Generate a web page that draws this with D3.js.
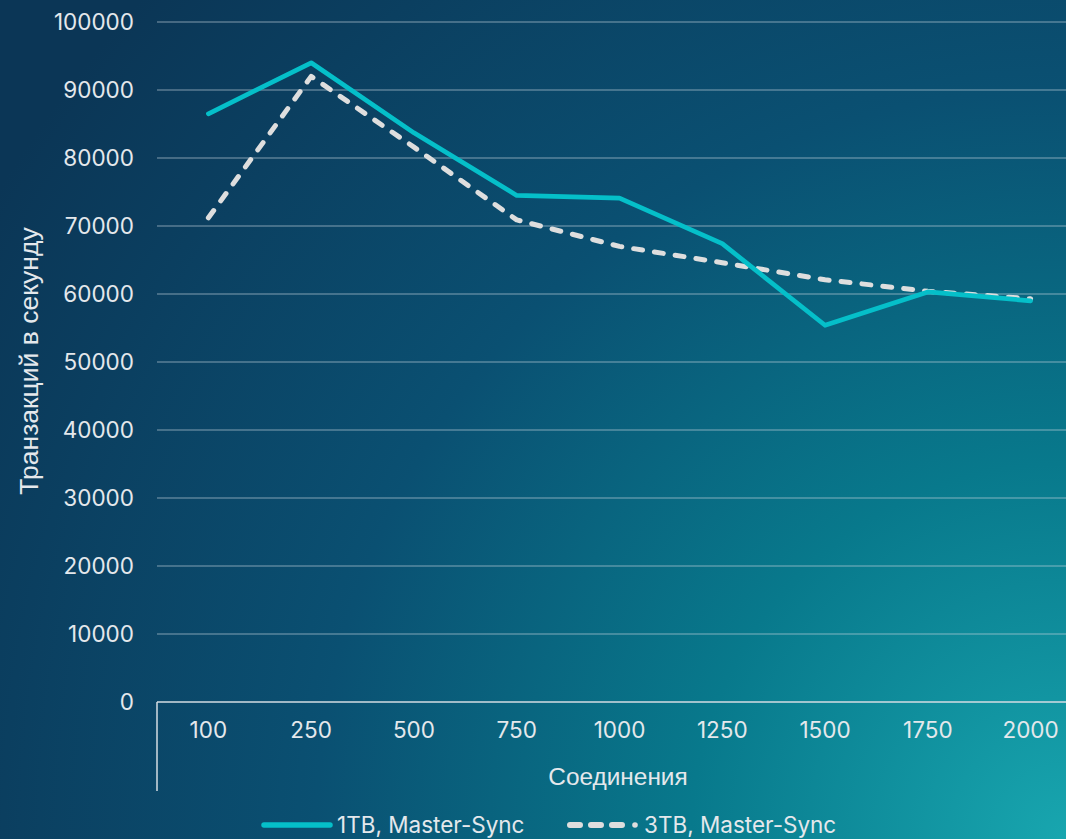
<!DOCTYPE html>
<html>
<head>
<meta charset="utf-8">
<script src="https://cdn.jsdelivr.net/npm/d3@7"></script>
<style>
  html, body { margin: 0; padding: 0; overflow: hidden; background: #0b3656; }
  svg { display: block; }
</style>
</head>
<body>
<svg id="chart" width="1066" height="839"></svg>
<script>
// Connection counts on the category axis
const connections = ["100", "250", "500", "750", "1000", "1250", "1500", "1750", "2000"];
// Transactions per second, one value per connection count
const tps1TB = [86500, 94000, 83700, 74500, 74100, 67400, 55400, 60300, 59000];
const tps3TB = [71200, 92000, 81600, 70900, 67000, 64600, 62100, 60400, 59300];
const yTicks = [0, 10000, 20000, 30000, 40000, 50000, 60000, 70000, 80000, 90000, 100000];
const seriesNames = ["1TB, Master-Sync", "3TB, Master-Sync"];

const W = 1066, H = 839;
const svg = d3.select("#chart");
const tickFont = "Inter, 'Noto Sans', sans-serif";
const titleFont = "'Liberation Sans', Arial, sans-serif";
const textColor = "#e4e8ec";

// Background: teal glow from the lower-right corner into dark navy
const defs = svg.append("defs");
const grad = defs.append("radialGradient")
  .attr("id", "bg").attr("gradientUnits", "userSpaceOnUse")
  .attr("cx", W).attr("cy", H).attr("r", 1250);
[[0, "#18a6af"], [0.3, "#08798c"], [0.6, "#0a5072"], [0.85, "#0b3f60"], [1, "#0b3656"]]
  .forEach(([o, c]) => grad.append("stop").attr("offset", o).attr("stop-color", c));
svg.append("rect").attr("width", W).attr("height", H).attr("fill", "url(#bg)");

const x = d3.scaleBand().domain(connections).range([157, 1082]);
const y = d3.scaleLinear().domain([0, 100000]).range([702, 22]);
const cx = d => x(d) + x.bandwidth() / 2;

// Horizontal gridlines
svg.append("g").selectAll("line").data(yTicks.filter(v => v > 0)).join("line")
  .attr("x1", 157).attr("x2", W)
  .attr("y1", d => y(d)).attr("y2", d => y(d))
  .attr("stroke", "rgba(200,215,225,0.42)").attr("stroke-width", 1.3);

// Y axis labels
const yAxis = svg.append("g").attr("transform", "translate(134,0)")
  .call(d3.axisLeft(y).tickValues(yTicks).tickSize(0).tickPadding(0).tickFormat(d3.format("d")));
yAxis.select(".domain").remove();
yAxis.selectAll("text")
  .attr("fill", textColor).attr("font-family", tickFont).attr("font-size", 22.5);

// Category axis
const xAxis = svg.append("g").attr("transform", "translate(0,702)")
  .call(d3.axisBottom(x).tickSize(0).tickPadding(20));
xAxis.select(".domain").remove();
xAxis.selectAll("text")
  .attr("fill", textColor).attr("font-family", tickFont).attr("font-size", 22.5);
svg.append("line").attr("x1", 157).attr("x2", W).attr("y1", 702).attr("y2", 702)
  .attr("stroke", "#d5dde3").attr("stroke-width", 1.5);
svg.append("line").attr("x1", 157).attr("x2", 157).attr("y1", 702).attr("y2", 791)
  .attr("stroke", "#d5dde3").attr("stroke-width", 1.5);

// Axis titles
svg.append("text").attr("x", 618).attr("y", 785).attr("text-anchor", "middle")
  .attr("fill", textColor).attr("font-family", titleFont)
  .attr("font-size", 24.4).text("Соединения");
svg.append("text").attr("transform", "translate(38,361) rotate(-90)").attr("text-anchor", "middle")
  .attr("fill", textColor).attr("font-family", titleFont)
  .attr("font-size", 26.5).text("Транзакций в секунду");

// Series lines
const line = d3.line().x((d, i) => cx(connections[i])).y(d => y(d));
svg.append("path").datum(tps3TB).attr("d", line).attr("fill", "none")
  .attr("stroke", "#dedede").attr("stroke-width", 5)
  .attr("stroke-dasharray", "9,12").attr("stroke-linecap", "round").attr("stroke-linejoin", "round");
svg.append("path").datum(tps1TB).attr("d", line).attr("fill", "none")
  .attr("stroke", "#05bfc9").attr("stroke-width", 4.7)
  .attr("stroke-linejoin", "round").attr("stroke-linecap", "round");

// Legend
const lg = svg.append("g").attr("font-family", tickFont).attr("font-size", 22.5).attr("fill", textColor);
lg.append("line").attr("x1", 264).attr("x2", 330).attr("y1", 825).attr("y2", 825)
  .attr("stroke", "#05bfc9").attr("stroke-width", 5.5).attr("stroke-linecap", "round");
lg.append("text").attr("x", 337).attr("y", 833).text(seriesNames[0]);
lg.append("line").attr("x1", 570).attr("x2", 622).attr("y1", 825).attr("y2", 825)
  .attr("stroke", "#dedede").attr("stroke-width", 6).attr("stroke-dasharray", "10,11")
  .attr("stroke-linecap", "round");
lg.append("circle").attr("cx", 635).attr("cy", 825).attr("r", 2.8).attr("fill", "#dedede");
lg.append("text").attr("x", 644).attr("y", 833).text(seriesNames[1]);
</script>
</body>
</html>
